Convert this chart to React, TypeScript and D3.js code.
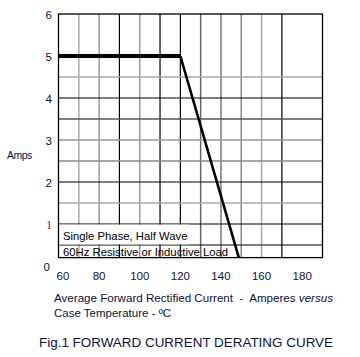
import React from "react";
import * as d3 from "d3";

const curveTemps = [60, 120, 150];
const curveAmps = [5, 5, 0];
const xTicks = [60, 80, 100, 120, 140, 160, 180];
const yTicks = [0, 1, 2, 3, 4, 5, 6];
const xGridVals = [70, 80, 90, 100, 110, 120, 130, 140, 150, 160, 170];
const yGridVals = [0.5, 1, 1.5, 2, 2.5, 3, 3.5, 4, 4.5];
const xDomain = [60, 190];
const yDomain = [0.2, 6];

const vColor: Record<number, string> = {
  70: "#aaa", 80: "#999", 90: "#000", 100: "#999", 110: "#333",
  120: "#000", 130: "#666", 140: "#777", 150: "#888", 160: "#aaa", 170: "#000",
};
const hColor: Record<number, string> = {
  0.5: "#000", 1: "#000", 1.5: "#aaa", 2: "#000", 2.5: "#888",
  3: "#999", 3.5: "#555", 4: "#000", 4.5: "#aaa",
};

export default function App() {
  const W = 360, H = 357;
  const x = d3.scaleLinear().domain(xDomain).range([58.5, 322.5]);
  const y = d3.scaleLinear().domain([0, 6]).range([266, 14]);
  const yb = y(yDomain[0]);
  const font = "'Liberation Sans', Arial, sans-serif";
  const textCol = "#10103a";

  const pts = curveTemps.map((t, i) => [x(t), y(curveAmps[i])] as [number, number]);
  const line = d3.line();

  return (
    <svg width={W} height={H} style={{ position: "absolute", left: 0, top: 0, background: "#fff" }}
      fontFamily={font}>
      <defs>
        <clipPath id="plot">
          <rect x={x(60)} y={y(6)} width={x(190) - x(60)} height={yb - y(6)} />
        </clipPath>
      </defs>
      <rect x={0} y={0} width={W} height={H} fill="#fff" />
      {xGridVals.map((v) => (
        <line key={"v" + v} x1={x(v)} x2={x(v)} y1={y(6)} y2={yb}
          stroke={vColor[v]} strokeWidth={vColor[v] === "#000" ? 1.2 : 1.5} />
      ))}
      {yGridVals.map((v) => (
        <line key={"h" + v} x1={x(60)} x2={x(190)} y1={y(v)} y2={y(v)}
          stroke={hColor[v]} strokeWidth={hColor[v] === "#000" ? 1.2 : 1.5} />
      ))}
      <rect x={x(60) + 0.6} y={y(1) + 0.6} width={131} height={y(0.5) - y(1) - 1.2} fill="#fff" />
      <text x={63} y={240} fontSize={11.3} fill="#000">Single Phase, Half Wave</text>
      <text x={63} y={255.5} fontSize={11.3} fill="#000">60Hz Resistive or Inductive Load</text>
      <rect x={x(60)} y={y(6)} width={x(190) - x(60)} height={yb - y(6)} fill="none" stroke="#000" strokeWidth={1.3} />
      <g clipPath="url(#plot)">
        <path d={line([pts[0], pts[1]]) || ""} stroke="#000" strokeWidth={4} fill="none" />
        <path d={line([pts[1], pts[2]]) || ""} stroke="#000" strokeWidth={2.6} fill="none" />
      </g>
      {yTicks.map((v) => (
        <text key={"yt" + v} x={v === 0 ? 50 : 52} y={v === 0 ? 271 : y(v) + 4.5} textAnchor="end" fontSize={11.5}
          fill={v === 1 ? "#6a1010" : textCol}
          fontFamily={v === 1 ? "'Liberation Serif', serif" : font}>{v}</text>
      ))}
      {xTicks.map((v) => (
        <text key={"xt" + v} x={v === 60 ? 63 : x(v)} y={280} textAnchor="middle" fontSize={11.5} fill={textCol}>{v}</text>
      ))}
      <text x={7} y={159} fontSize={10.5} fill={textCol} letterSpacing={-0.5}>Amps</text>
      <text x={54} y={302} fontSize={11.5} fill={textCol} textLength={279} lengthAdjust="spacingAndGlyphs">
        Average Forward Rectified Current {"\u00a0"}-{"\u00a0"} Amperes <tspan fontStyle="italic">versus</tspan>
      </text>
      <text x={54} y={317} fontSize={11.5} fill={textCol}>Case Temperature - {"\u00ba"}C</text>
      <text x={39} y={347} fontSize={12.5} fill={textCol} textLength={294} lengthAdjust="spacingAndGlyphs">
        Fig.1 FORWARD CURRENT DERATING CURVE
      </text>
    </svg>
  );
}
